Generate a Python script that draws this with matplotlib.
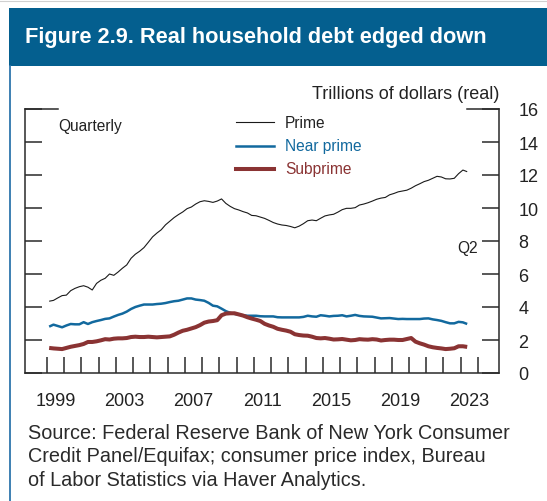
import matplotlib
matplotlib.use("Agg")
import matplotlib.pyplot as plt
import matplotlib.transforms as mtransforms
from matplotlib.patches import Rectangle
from matplotlib.lines import Line2D
import numpy as np

plt.rcParams['font.family'] = ['Liberation Sans', 'DejaVu Sans']

# Quarterly real household debt by credit score, trillions of dollars (real), 1999Q1-2023Q2
years = list(range(1999, 2024))
prime = [
    4.35, 4.40, 4.55, 4.69,   # 1999
    4.72, 4.99, 5.13, 5.23,   # 2000
    5.29, 5.20, 5.03, 5.43,   # 2001
    5.62, 5.74, 6.00, 5.92,   # 2002
    6.12, 6.35, 6.55, 6.95,   # 2003
    7.20, 7.38, 7.60, 7.92,   # 2004
    8.25, 8.48, 8.68, 8.98,   # 2005
    9.20, 9.42, 9.60, 9.76,   # 2006
    9.96, 10.06, 10.24, 10.38,  # 2007
    10.44, 10.40, 10.34, 10.42,  # 2008
    10.55, 10.28, 10.10, 9.96,  # 2009
    9.88, 9.78, 9.70, 9.55,   # 2010
    9.53, 9.45, 9.37, 9.25,   # 2011
    9.12, 9.03, 8.97, 8.94,   # 2012
    8.88, 8.80, 8.90, 9.05,   # 2013
    9.23, 9.27, 9.23, 9.38,   # 2014
    9.52, 9.58, 9.62, 9.75,   # 2015
    9.90, 9.98, 9.98, 10.02,  # 2016
    10.18, 10.24, 10.32, 10.42,  # 2017
    10.53, 10.60, 10.64, 10.80,  # 2018
    10.88, 10.98, 11.03, 11.08,  # 2019
    11.20, 11.35, 11.47, 11.60,  # 2020
    11.68, 11.80, 11.92, 11.88,  # 2021
    11.77, 11.76, 11.80, 12.08,  # 2022
    12.30, 12.20,               # 2023
]
near_prime = [
    2.81, 2.93, 2.85, 2.77,
    2.88, 2.97, 2.95, 2.95,
    3.08, 2.97, 3.08, 3.15,
    3.21, 3.28, 3.31, 3.42,
    3.52, 3.60, 3.72, 3.88,
    4.00, 4.08, 4.15, 4.15,
    4.15, 4.18, 4.20, 4.24,
    4.30, 4.35, 4.38, 4.45,
    4.52, 4.52, 4.45, 4.42,
    4.38, 4.25, 4.08, 4.04,
    3.90, 3.75, 3.65, 3.58,
    3.54, 3.50, 3.47, 3.47,
    3.47, 3.44, 3.43, 3.43,
    3.43, 3.38, 3.37, 3.37,
    3.37, 3.37, 3.37, 3.40,
    3.47, 3.43, 3.41, 3.50,
    3.47, 3.43, 3.46, 3.47,
    3.50, 3.43, 3.47, 3.52,
    3.46, 3.43, 3.42, 3.41,
    3.36, 3.31, 3.32, 3.33,
    3.30, 3.27, 3.28, 3.27,
    3.27, 3.27, 3.27, 3.30,
    3.31, 3.25, 3.21, 3.16,
    3.08, 3.01, 3.01, 3.10,
    3.07, 2.97,
]
subprime = [
    1.52, 1.49, 1.47, 1.45,
    1.52, 1.59, 1.64, 1.69,
    1.76, 1.88, 1.88, 1.92,
    1.98, 2.05, 2.03, 2.08,
    2.10, 2.10, 2.12, 2.18,
    2.20, 2.18, 2.18, 2.20,
    2.18, 2.16, 2.18, 2.20,
    2.22, 2.32, 2.45, 2.56,
    2.62, 2.70, 2.78, 2.90,
    3.05, 3.12, 3.15, 3.20,
    3.50, 3.60, 3.62, 3.62,
    3.55, 3.48, 3.38, 3.30,
    3.23, 3.15, 2.98, 2.88,
    2.80, 2.68, 2.62, 2.57,
    2.50, 2.35, 2.30, 2.27,
    2.26, 2.20, 2.12, 2.10,
    2.12, 2.08, 2.03, 2.04,
    2.06, 2.02, 1.98, 2.00,
    2.05, 2.03, 2.02, 2.05,
    2.03, 1.97, 2.00, 2.02,
    2.02, 2.00, 2.00, 2.06,
    2.12, 1.90, 1.80, 1.72,
    1.62, 1.56, 1.52, 1.49,
    1.45, 1.47, 1.50, 1.62,
    1.62, 1.58,
]
year_labels = ['1999', '2003', '2007', '2011', '2015', '2019', '2023']
y_ticks = [0, 2, 4, 6, 8, 10, 12, 14, 16]

series = [
    ('Prime', prime, '#1a1a1a', 0.8),
    ('Near prime', near_prime, '#12699e', 1.8),
    ('Subprime', subprime, '#8a3333', 2.9),
]

# quarter midpoints in fractional years
n = len(prime)
t = np.array([years[0] + (i // 4) + ((i % 4) + 0.5) / 4 for i in range(n)])

W, H = 547, 502
fig = plt.figure(figsize=(W / 100, H / 100), dpi=100)
fig.patch.set_facecolor('white')

# header band and frame
fig.patches.append(Rectangle((9 / W, 1 - 67 / H), 1 - 9 / W, 58 / H,
                             transform=fig.transFigure, facecolor='#045f8f',
                             edgecolor='none', zorder=0))
fig.lines.append(Line2D([9.5 / W, 9.5 / W], [0, 1 - 67 / H], transform=fig.transFigure,
                        color='#2e76ad', linewidth=1.3))
fig.lines.append(Line2D([0, 1], [1 - 1.5 / H, 1 - 1.5 / H], transform=fig.transFigure,
                        color='#d0d0d0', linewidth=0.8))
fig.text(25 / W, 1 - 38 / H, 'Figure 2.9. Real household debt edged down',
         color='white', fontsize=15.7, fontweight='bold', va='center', ha='left')

ax = fig.add_axes([25 / W, 1 - 374 / H, 474 / W, 264 / H])
for name, vals, col, lw in series:
    ax.plot(t, vals, color=col, linewidth=lw, solid_capstyle='butt')

ax.set_xlim(1997.724, 2025.22)
ax.set_ylim(0, 16)

spine_col = '#2a2a2a'
for s in ['left', 'right', 'bottom']:
    ax.spines[s].set_color(spine_col)
    ax.spines[s].set_linewidth(1.1)
ax.spines['top'].set_visible(False)

# y axis: inward ticks on both sides, labels on the right
ax.set_yticks(y_ticks)
ax.set_yticklabels([str(v) for v in y_ticks])
ax.tick_params(axis='y', which='major', direction='in', length=12.2, width=1.1,
               color=spine_col, left=True, right=True, labelleft=False,
               labelright=True, labelsize=13, labelcolor='#222222', pad=14)

# longer marks at the top of the scale
yb = mtransforms.blended_transform_factory(ax.transAxes, ax.transData)
ax.add_line(Line2D([0, 33 / 474], [16, 16], transform=yb, color=spine_col,
                   linewidth=1.1, clip_on=False))
ax.add_line(Line2D([1 - 32 / 474, 1], [16, 16], transform=yb, color=spine_col,
                   linewidth=1.1, clip_on=False))

# x axis: a tick at every year boundary, labels centred within the year
ax.set_xticks(list(range(1999, 2025)))
ax.set_xticklabels([])
ax.tick_params(axis='x', which='major', direction='in', length=11.5, width=1.1,
               color=spine_col, top=False)
ax.set_xticks([int(y) + 0.5 for y in year_labels], minor=True)
ax.set_xticklabels(year_labels, minor=True)
ax.tick_params(axis='x', which='minor', length=0, labelsize=13,
               labelcolor='#222222', pad=13.5)

# annotations
ax.text(1.0, 1.057, 'Trillions of dollars (real)', transform=ax.transAxes,
        ha='right', va='center', fontsize=13, color='#222222')
ax.text(33 / 474, 0.937, 'Quarterly', transform=ax.transAxes,
        ha='left', va='center', fontsize=11.2, color='#222222')
ax.text(0.956, 0.477, 'Q2', transform=ax.transAxes, ha='right', va='center',
        fontsize=11.2, color='#222222')

# legend
leg_y = [0.9496, 0.861, 0.773]
for (name, vals, col, lw), yy in zip(series, leg_y):
    ax.add_line(Line2D([0.445, 0.525], [yy, yy], transform=ax.transAxes,
                       color=col, linewidth=lw, clip_on=False))
    ax.text(0.5485, yy, name, transform=ax.transAxes, ha='left', va='center',
            fontsize=11.2, color=col if name != 'Prime' else '#222222')

fig.text(28 / W, 1 - 424 / H,
         'Source: Federal Reserve Bank of New York Consumer\n'
         'Credit Panel/Equifax; consumer price index, Bureau\n'
         'of Labor Statistics via Haver Analytics.',
         ha='left', va='top', fontsize=14.3, color='#2a2a2a', linespacing=1.3)

fig.savefig('out.png', dpi=100, facecolor='white')
